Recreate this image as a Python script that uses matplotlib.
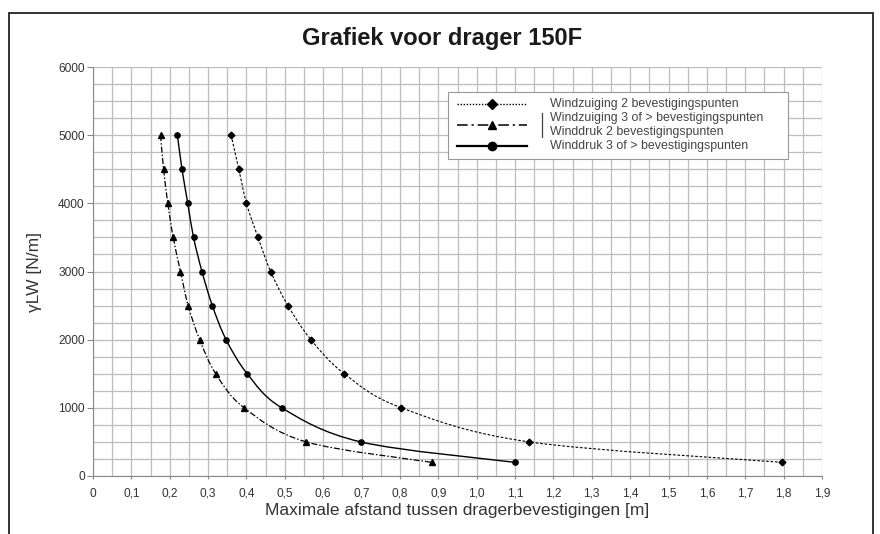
"""
Grafiek voor drager 150F - naar referentie nagetekend
"""
import numpy as np
import matplotlib
matplotlib.use('Agg')
import matplotlib.pyplot as plt
from matplotlib.path import Path
from matplotlib.patches import PathPatch, Rectangle
from matplotlib.lines import Line2D
from matplotlib.ticker import MultipleLocator

# belasting gammaLW [N/m]
belasting = [5000, 4500, 4000, 3500, 3000, 2500, 2000, 1500, 1000, 500, 200]
# maximale afstand [m] per curve
zuiging_2 = [0.36, 0.38, 0.40, 0.43, 0.463, 0.508, 0.568, 0.655, 0.804, 1.137, 1.797]
zuiging_3_druk_2 = [0.176, 0.184, 0.195, 0.209, 0.228, 0.248, 0.278, 0.32, 0.394, 0.556, 0.883]
druk_3 = [0.22, 0.232, 0.247, 0.262, 0.284, 0.311, 0.347, 0.402, 0.492, 0.698, 1.10]

x_ticks = [0, 0.1, 0.2, 0.3, 0.4, 0.5, 0.6, 0.7, 0.8, 0.9, 1.0,
           1.1, 1.2, 1.3, 1.4, 1.5, 1.6, 1.7, 1.8, 1.9]
x_labels = ['0', '0,1', '0,2', '0,3', '0,4', '0,5', '0,6', '0,7', '0,8', '0,9',
            '1,0', '1,1', '1,2', '1,3', '1,4', '1,5', '1,6', '1,7', '1,8', '1,9']
y_ticks = [0, 1000, 2000, 3000, 4000, 5000, 6000]

legend_texts = ['Windzuiging 2 bevestigingspunten',
                'Windzuiging 3 of > bevestigingspunten',
                'Winddruk 2 bevestigingspunten',
                'Winddruk 3 of > bevestigingspunten']

NARROW = ['Liberation Sans Narrow', 'Liberation Sans', 'DejaVu Sans']
REGULAR = ['Liberation Sans', 'DejaVu Sans']

W, H = 880, 534


def fx(px):
    return px / W


def fy(py):
    return 1 - py / H


def smooth_curve(ax, xs, ys, **kw):
    """
    gladde lijn (bezier) door de punten, zoals Excel
    """
    kx = 729 / 1.9
    ky = 409 / 6000.
    pts = np.column_stack([np.asarray(xs) * kx, np.asarray(ys) * ky])
    n = len(pts)
    verts = [pts[0]]
    codes = [Path.MOVETO]
    for i in range(n - 1):
        p0 = pts[i - 1] if i > 0 else pts[i]
        p1 = pts[i]
        p2 = pts[i + 1]
        p3 = pts[i + 2] if i + 2 < n else pts[i + 1]
        c1 = p1 + (p2 - p0) / 6.
        c2 = p2 - (p3 - p1) / 6.
        verts += [c1, c2, p2]
        codes += [Path.CURVE4] * 3
    verts = np.array(verts) / np.array([kx, ky])
    ax.add_patch(PathPatch(Path(verts, codes), fill=False, **kw))


fig = plt.figure(figsize=(8.8, 5.34), dpi=100)
ax = fig.add_axes([fx(93), fy(476), fx(822) - fx(93), fy(67) - fy(476)])

ax.set_xlim(0, 1.9)
ax.set_ylim(0, 6000)
ax.set_xticks(x_ticks)
ax.set_xticklabels(x_labels)
ax.set_yticks(y_ticks)
ax.xaxis.set_minor_locator(MultipleLocator(0.05))
ax.yaxis.set_minor_locator(MultipleLocator(250))
ax.grid(True, which='both', color='#bdbdbd', linewidth=0.9)
ax.set_axisbelow(True)
ax.tick_params(which='minor', length=0)
ax.tick_params(axis='y', which='major', length=4.5, width=0.8, color='#888888',
               pad=1.5, labelsize=8.6, labelcolor='#333333')
ax.tick_params(axis='x', which='major', length=2.5, width=0.8, color='#888888',
               pad=6, labelsize=8.6, labelcolor='#333333')
for lab in ax.get_xticklabels() + ax.get_yticklabels():
    lab.set_family(NARROW)

ax.spines['top'].set_visible(False)
ax.spines['right'].set_visible(False)
for s in ('left', 'bottom'):
    ax.spines[s].set_color('#888888')
    ax.spines[s].set_linewidth(0.8)

# curves
smooth_curve(ax, zuiging_2, belasting, edgecolor='black', linewidth=0.8,
             linestyle=(0, (2.4, 1.6)))
ax.plot(zuiging_2, belasting, linestyle='none', marker='D', markersize=3.4,
        color='black')
smooth_curve(ax, zuiging_3_druk_2, belasting, edgecolor='black', linewidth=0.9,
             linestyle=(0, (4.8, 1.6, 1.2, 1.6)))
ax.plot(zuiging_3_druk_2, belasting, linestyle='none', marker='^', markersize=5,
        color='black')
smooth_curve(ax, druk_3, belasting, edgecolor='black', linewidth=1.0,
             linestyle='-')
ax.plot(druk_3, belasting, linestyle='none', marker='o', markersize=3.8,
        color='black')

ax.set_xlabel('Maximale afstand tussen dragerbevestigingen [m]', fontsize=12.5,
              family=REGULAR, color='#333333', labelpad=2)
ax.set_ylabel('\u03b3LW [N/m]', fontsize=12.5, family=REGULAR, color='#333333',
              labelpad=12)

# titel
fig.text(fx(442), fy(38), 'Grafiek voor drager 150F', ha='center', va='center',
         fontsize=17, fontweight='bold', family=NARROW, color='#1a1a1a')

# kader rond de figuur
fig.add_artist(Rectangle((fx(9), fy(545)), fx(873) - fx(9), fy(13) - fy(545),
                         transform=fig.transFigure, fill=False,
                         edgecolor='#222222', linewidth=1.3))

# legenda
fig.add_artist(Rectangle((fx(448), fy(159)), fx(788) - fx(448), fy(92) - fy(159),
                         transform=fig.transFigure, facecolor='white',
                         edgecolor='#999999', linewidth=0.8, zorder=5))
rows = [104, 118, 132, 146]
for txt, ry in zip(legend_texts, rows):
    fig.text(fx(550), fy(ry), txt, ha='left', va='center', fontsize=8.9,
             family=REGULAR, color='#444444', zorder=6)
handles = [
    (104, 'D', 5, (0, (1, 1.2)), 1.0),
    (125, '^', 6, (0, (7, 2.5, 1.5, 2.5)), 1.1),
    (146, 'o', 6, '-', 1.6),
]
for hy, mk, ms, ls, lw in handles:
    fig.add_artist(Line2D([fx(457), fx(527)], [fy(hy), fy(hy)],
                          transform=fig.transFigure, color='black',
                          linestyle=ls, linewidth=lw, zorder=6))
    fig.add_artist(Line2D([fx(492)], [fy(hy)], transform=fig.transFigure,
                          color='black', marker=mk, markersize=ms,
                          linestyle='none', zorder=7))
fig.add_artist(Line2D([fx(542), fx(542)], [fy(113), fy(137)],
                      transform=fig.transFigure, color='#444444',
                      linewidth=0.9, zorder=6))

fig.savefig('out.png', dpi=100)
plt.close('all')
